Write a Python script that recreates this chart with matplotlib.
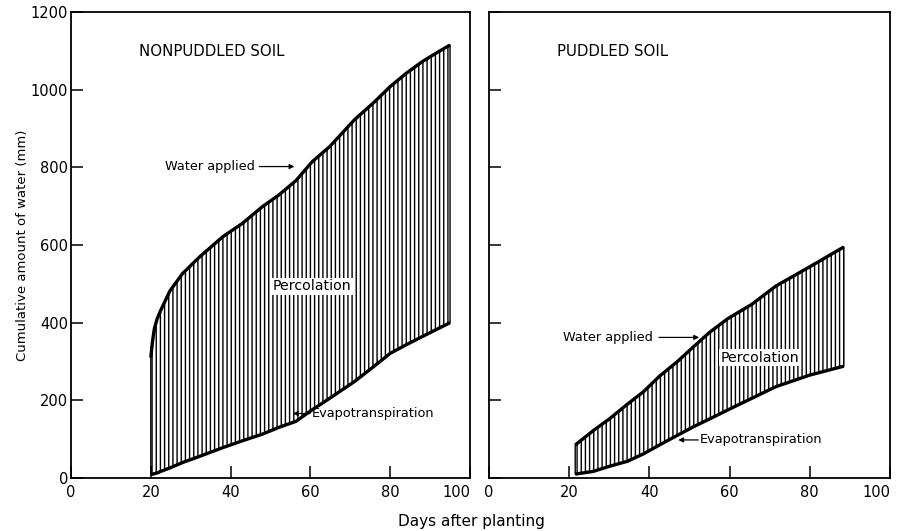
import matplotlib
matplotlib.use("Agg")
import matplotlib.pyplot as plt

plt.rcParams["font.family"] = "DejaVu Sans"
plt.rcParams["hatch.linewidth"] = 1.0

# nonpuddled soil (left panel)
days_np = [20, 20.4, 20.9, 21.6, 22.5, 24.8, 28, 32.3, 38, 43, 48, 52, 56.4,
           60.5, 64.8, 71, 76, 80, 84, 88, 91.5, 95]
water_np = [310, 350, 385, 410, 432, 482, 527, 570, 621, 656, 699, 728, 766,
            815, 853, 922, 968, 1008, 1042, 1072, 1094, 1115]
et_np = [8, 10, 11, 13, 17, 26, 40, 56, 78, 96, 113, 130, 146,
         176, 205, 248, 288, 321, 343, 364, 382, 400]

# puddled soil (right panel)
days_p = [21.5, 26, 30, 34.5, 38.5, 42.5, 47, 51, 55, 59.5, 65.5, 71.5, 80, 88.5]
water_p = [85, 122, 152, 190, 222, 262, 300, 338, 375, 410, 447, 494, 544, 595]
et_p = [10, 17, 30, 43, 62, 85, 110, 132, 152, 175, 205, 235, 265, 288]

y_ticks = [0, 200, 400, 600, 800, 1000, 1200]
x_ticks = [0, 20, 40, 60, 80, 100]

fig = plt.figure(figsize=(8.98, 5.31), dpi=100)
ax1 = fig.add_axes([71 / 898, 53 / 531, 399 / 898, 466 / 531])
ax2 = fig.add_axes([489 / 898, 53 / 531, 401 / 898, 466 / 531])


def panel(ax, days, water, et):
    ax.fill_between(days, et, water, facecolor="none", edgecolor="black",
                    hatch="||||", linewidth=1.0)
    ax.plot(days, water, color="black", lw=2.4, solid_capstyle="butt")
    ax.plot(days, et, color="black", lw=2.4, solid_capstyle="butt")
    ax.set_xlim(0, 100)
    ax.set_ylim(0, 1200)
    ax.set_xticks(x_ticks)
    ax.set_yticks(y_ticks)
    ax.tick_params(direction="in", length=8.5, width=1.1, labelsize=10.5,
                   pad=5)
    ax.tick_params(axis="y", pad=2)
    ax.get_xticklabels()[-1].set_horizontalalignment("right")
    for s in ax.spines.values():
        s.set_linewidth(1.3)


def arrow(ax, head, tail):
    ax.annotate("", xy=head, xytext=tail,
                arrowprops=dict(arrowstyle="-|>", lw=0.9, color="black",
                                mutation_scale=7, shrinkA=0, shrinkB=0))


panel(ax1, days_np, water_np, et_np)
panel(ax2, days_p, water_p, et_p)
ax2.set_yticklabels([])

ax1.set_ylabel("Cumulative amount of water (mm)", fontsize=9.5, labelpad=1.5)
fig.text(0.525, 0.004, "Days after planting", ha="center", va="bottom",
         fontsize=11)

# left panel annotations
ax1.text(17, 1097, "NONPUDDLED SOIL", fontsize=10.8, va="center")
ax1.text(23.5, 802, "Water applied", fontsize=9.3, va="center")
arrow(ax1, (56, 802), (47.2, 802))
ax1.text(50.5, 494, "Percolation", fontsize=10.2, va="center",
         bbox=dict(facecolor="white", edgecolor="none", pad=1))
ax1.text(60.3, 166, "Evapotranspiration", fontsize=9.3, va="center")
arrow(ax1, (55.6, 166), (59.9, 166))

# right panel annotations
ax2.text(17, 1097, "PUDDLED SOIL", fontsize=10.8, va="center")
ax2.text(18.5, 362, "Water applied", fontsize=9.3, va="center")
arrow(ax2, (52.4, 362), (42.4, 362))
ax2.text(57.8, 310, "Percolation", fontsize=10.2, va="center",
         bbox=dict(facecolor="white", edgecolor="none", pad=1))
ax2.text(52.6, 98, "Evapotranspiration", fontsize=9.3, va="center")
arrow(ax2, (47.2, 98), (52.2, 98))

fig.savefig("out.png", dpi=100)
